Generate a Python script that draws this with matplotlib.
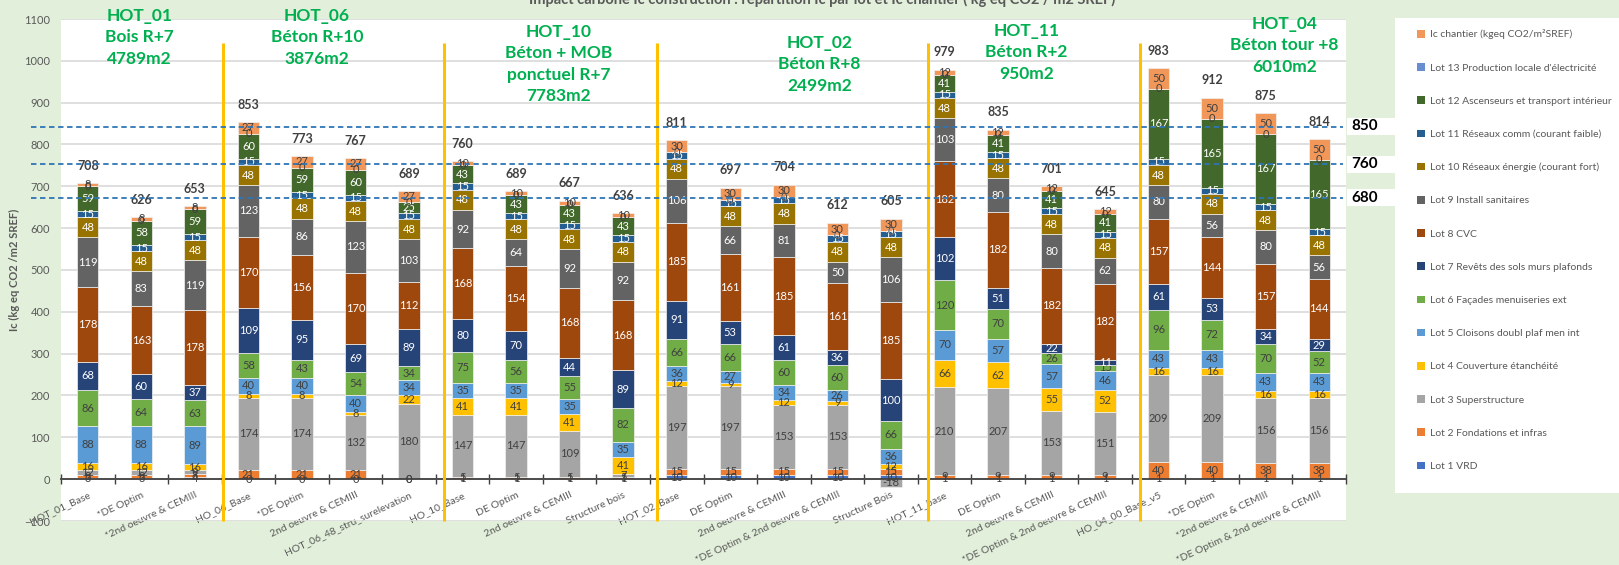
import numpy as np
import matplotlib.pyplot as plt
from matplotlib.patches import Patch, Rectangle

plt.rcParams['font.family'] = ['Lato', 'DejaVu Sans']

W, H = 1619, 565

categories = [
    "HOT_01_Base", "*DE Optim", "*2nd oeuvre & CEMIII",
    "HO_06_Base", "*DE Optim", "2nd oeuvre & CEMIII", "HOT_06_48_stru_surelevation",
    "HO_10_Base", "DE Optim", "2nd oeuvre & CEMIII", "Structure bois",
    "HOT_02_Base", "DE Optim", "2nd oeuvre & CEMIII", "*DE Optim & 2nd oeuvre & CEMIII", "Structure Bois",
    "HOT_11_base", "DE Optim", "2nd oeuvre & CEMIII", "*DE Optim & 2nd oeuvre & CEMIII",
    "HO_04_00_Base_v5", "*DE Optim", "*2nd oeuvre & CEMIII", "*DE Optim & 2nd oeuvre & CEMIII",
]

lot1 = [3, 3, 4, 0, 0, 0, 0, 1, 1, 1, 1, 10, 10, 10, 10, 10, 1, 1, 1, 1, 1, 1, 1, 1]
lot2 = [8, 8, 8, 21, 21, 21, 0, 5, 5, 5, 5, 15, 15, 15, 15, 15, 9, 9, 9, 9, 40, 40, 38, 38]
lot3 = [12, 12, 9, 174, 174, 132, 180, 147, 147, 109, 7, 197, 197, 153, 153, -18,
        210, 207, 153, 151, 209, 209, 156, 156]
lot4 = [16, 16, 16, 8, 8, 8, 22, 41, 41, 41, 41, 12, 9, 12, 9, 12, 66, 62, 55, 52, 16, 16, 16, 16]
lot5 = [88, 88, 89, 40, 40, 40, 34, 35, 35, 35, 35, 36, 27, 34, 26, 36, 70, 57, 57, 46, 43, 43, 43, 43]
lot6 = [86, 64, 63, 58, 43, 54, 34, 75, 56, 55, 82, 66, 66, 60, 60, 66, 120, 70, 26, 15, 96, 72, 70, 52]
lot7 = [68, 60, 37, 109, 95, 69, 89, 80, 70, 44, 89, 91, 53, 61, 36, 100, 102, 51, 22, 11, 61, 53, 34, 29]
lot8 = [178, 163, 178, 170, 156, 170, 112, 168, 154, 168, 168, 185, 161, 185, 161, 185,
        182, 182, 182, 182, 157, 144, 157, 144]
lot9 = [119, 83, 119, 123, 86, 123, 103, 92, 64, 92, 92, 106, 66, 81, 50, 106, 103, 80, 80, 62, 80, 56, 80, 56]
lot10 = [48] * 24
lot11 = [15] * 24
lot12 = [59, 58, 59, 60, 59, 60, 25, 43, 43, 43, 43, 0, 0, 0, 0, 0, 41, 41, 41, 41, 167, 165, 167, 165]
lot13 = [0] * 24
chantier = [8, 8, 8, 27, 27, 27, 27, 10, 10, 10, 10, 30, 30, 30, 30, 30, 12, 12, 12, 12, 50, 50, 50, 50]

totals = [708, 626, 653, 853, 773, 767, 689, 760, 689, 667, 636, 811, 697, 704, 612, 605,
          979, 835, 701, 645, 983, 912, 875, 814]

series_names = [
    "Lot 1 VRD", "Lot 2 Fondations et infras", "Lot 3 Superstructure",
    "Lot 4 Couverture étanchéité", "Lot 5 Cloisons doubl plaf men int",
    "Lot 6 Façades menuiseries ext", "Lot 7 Revêts des sols murs plafonds", "Lot 8 CVC",
    "Lot 9 Install sanitaires", "Lot 10 Réseaux énergie (courant fort)",
    "Lot 11 Réseaux comm (courant faible)", "Lot 12 Ascenseurs et transport intérieur",
    "Lot 13 Production locale d'électricité", "Ic chantier (kgeq CO2/m²SREF)",
]
series = [lot1, lot2, lot3, lot4, lot5, lot6, lot7, lot8, lot9, lot10, lot11, lot12, lot13, chantier]

groups = ["HOT_01\nBois R+7\n4789m2", "HOT_06\nBéton R+10\n3876m2",
          "HOT_10\nBéton + MOB\nponctuel R+7\n7783m2", "HOT_02\nBéton R+8\n2499m2",
          "HOT_11\nBéton R+2\n950m2", "HOT_04\nBéton tour +8\n6010m2"]
thresholds = [850, 760, 680]

title = "Impact carbone Ic construction : répartition Ic par lot et Ic chantier ( kg eq CO2 / m2 SREF)"

# layout
colors = ['#4472C4', '#ED7D31', '#A5A5A5', '#FFC000', '#5B9BD5', '#70AD47', '#264478',
          '#9E480E', '#636363', '#997300', '#255E91', '#43682B', '#698ED0', '#F1975A']
white_lbl = {6, 7, 8, 9, 10, 11}
group_pos = [(0.96, 1056), (4.28, 1056), (8.79, 992), (13.67, 992), (17.53, 1021), (22.35, 1037)]
sep_x = [2.53, 6.66, 10.64, 15.69, 19.65]
thr_line = [843, 753, 673]


def fx(px):
    return px / W


def fy(py):
    return 1 - py / H


fig = plt.figure(figsize=(W / 100, H / 100), dpi=100, facecolor='#E2EFDA')
ax = fig.add_axes([fx(61), fy(521), (1346 - 61) / W, (521 - 19) / H])
ax.set_facecolor('white')

x = np.arange(len(categories))
pos = np.zeros(len(x))
neg = np.zeros(len(x))
handles = []
for i, (vals, name, col) in enumerate(zip(series, series_names, colors)):
    v = np.array(vals, dtype=float)
    bottom = np.where(v >= 0, pos, neg)
    ax.bar(x, v, 0.4, bottom=bottom, color=col, edgecolor='#F2F2F2', linewidth=0.5)
    tc = 'white' if i in white_lbl else '#404040'
    for xi, b, vi in zip(x, bottom, v):
        ax.text(xi, b + vi / 2, f"{vi:.0f}", ha='center', va='center', fontsize=8, color=tc, zorder=4)
    pos = np.where(v >= 0, pos + v, pos)
    neg = np.where(v < 0, neg + v, neg)
    handles.append(Patch(facecolor=col, label=name))

for xi, top, t in zip(x, pos, totals):
    ax.annotate(str(t), (xi, top), xytext=(0, 12.5), textcoords='offset points',
                ha='center', va='center', fontsize=9, fontweight='bold', color='#404040')

ax.set_xlim(-0.5, len(x) - 0.5)
ax.set_ylim(-100, 1100)
ax.set_yticks(range(-100, 1101, 100))
ax.yaxis.grid(True, color='#D9D9D9', lw=1.2)
ax.set_axisbelow(True)
ax.tick_params(axis='y', length=0, pad=8, labelsize=8, labelcolor='#595959')

for s in ['left', 'right', 'top']:
    ax.spines[s].set_visible(False)
ax.spines['bottom'].set_position(('data', 0))
ax.spines['bottom'].set_color('#404040')
ax.spines['bottom'].set_linewidth(1.3)

ax.set_xticks(np.arange(-0.5, len(x), 1), [])
ax.tick_params(axis='x', which='major', direction='inout', length=7, width=1, color='#404040')
ax.set_xticks(x, categories, minor=True)
ax.tick_params(axis='x', which='minor', length=0, pad=8, labelsize=7.5, labelcolor='#595959')
for lbl in ax.get_xticklabels(minor=True):
    lbl.set_rotation(25)
    lbl.set_ha('right')
    lbl.set_rotation_mode('anchor')

ax.set_ylabel('Ic (kg eq CO2 /m2 SREF)', fontsize=8, fontweight='bold', color='#595959')
ax.yaxis.set_label_coords((20 - 61) / (1346 - 61), 0.5)

ax.vlines(sep_x, -100, 1043, color='#FFC000', lw=2.2, zorder=5, clip_on=False)
for yv in thr_line:
    ax.plot([-1.06, 23.44], [yv, yv], ls='--', dashes=(3, 2), color='#2E75B6', lw=1.3,
            clip_on=False, zorder=5)

for txt, (gx, gy) in zip(groups, group_pos):
    ax.text(gx, gy, txt, ha='center', va='center', fontsize=12.5, fontweight='bold',
            color='#00B050', linespacing=1.42, clip_on=False)

# threshold boxes on the right
for lab, yv in zip(thresholds, thr_line):
    py = 479 - 0.41818 * yv
    fig.patches.append(Rectangle((fx(1347), fy(py + 8.5)), 48 / W, 17 / H,
                                 transform=fig.transFigure, fc='white', ec='none'))
    fig.text(fx(1365), fy(py), str(lab), ha='center', va='center', fontsize=11,
             fontweight='bold', color='black')

# legend
fig.patches.append(Rectangle((fx(1395), fy(493)), (W - 1395) / W, (493 - 18) / H,
                             transform=fig.transFigure, fc='white', ec='none'))
fig.legend(handles=handles[::-1], loc='upper left', bbox_to_anchor=(fx(1408), fy(20)),
           frameon=False, fontsize=7.5, labelcolor='#595959', handlelength=0.75,
           handleheight=0.75, handletextpad=0.45, labelspacing=2.28)

fig.text(fx(822), fy(4), title, ha='center', va='baseline', fontsize=10.5,
         fontweight='bold', color='#595959')

fig.savefig('out.png', dpi=100, facecolor=fig.get_facecolor())
